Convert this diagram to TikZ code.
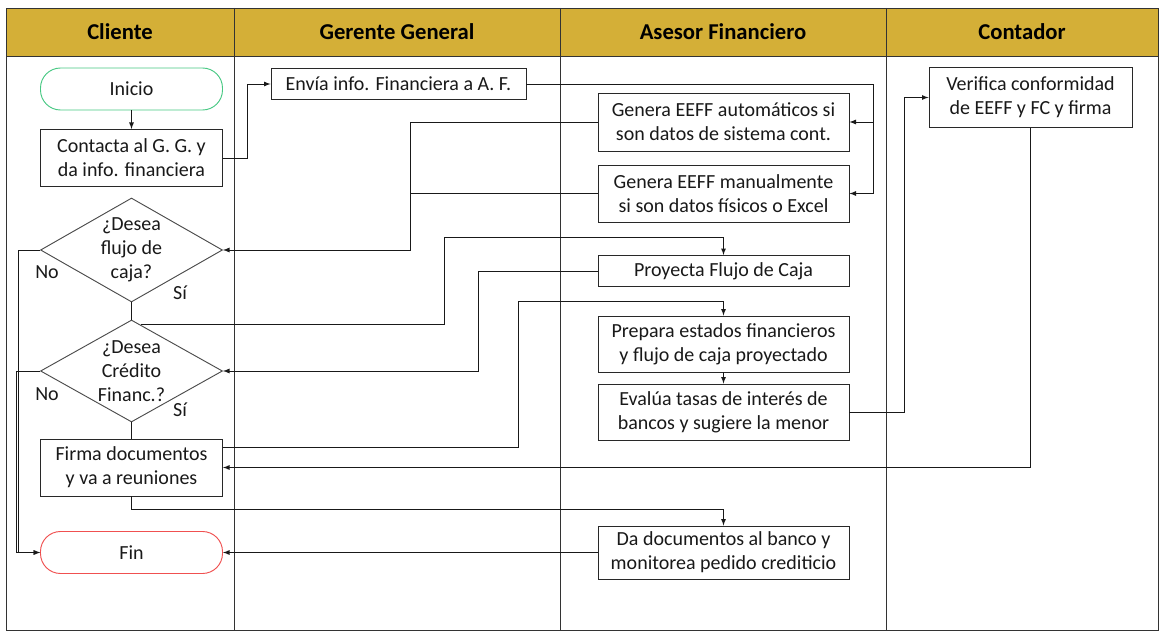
\documentclass[tikz,border=0pt]{standalone}
\usepackage{fontspec}
\setmainfont{Carlito}
\usepackage{tikz}
\usetikzlibrary{shapes}
\usetikzlibrary{calc}
\usetikzlibrary{arrows}
\usetikzlibrary{positioning}

\definecolor{headgold}{RGB}{212,175,55}
\definecolor{startgreen}{RGB}{70,200,130}
\definecolor{endred}{RGB}{240,80,80}
\definecolor{boxgray}{RGB}{40,40,40}

\begin{document}
\begin{tikzpicture}[x = 0.75pt, y = -0.75pt, >=latex,
	every node/.style = {font=\fontsize{15}{18}\selectfont, text=black!90},
	lanehead/.style = {font=\fontsize{17}{18}\selectfont\bfseries, text=black},
	proc/.style = {draw=boxgray, fill=white, rectangle, align=center, inner sep=0pt, line width=0.7pt},
	term/.style = {draw, fill=white, rectangle, rounded corners=15pt, minimum width=136.5pt, minimum height=31.5pt, inner sep=0pt, line width=0.7pt},
	decision/.style = {draw=black!70, fill=white, diamond, minimum width=136.5pt, inner sep=0pt, line width=0.7pt},
	flow/.style = {draw=black!90, line width=0.7pt}]
	\useasboundingbox (0, 0) rectangle (1160, 631);
	
	% Lanes
	\fill[headgold] (6, 8) rectangle (1158, 56);
	\draw[black!80, line width=0.7pt] (6, 8) rectangle (1158, 630);
	\draw[black!80, line width=0.7pt] (6, 56) -- (1158, 56);
	\foreach \x in {234, 560, 886}
		\draw[black!80, line width=0.7pt] (\x, 8) -- (\x, 630);
	\node[lanehead] (hcli) at (120, 32) {Cliente};
	\node[lanehead] (hger) at (397, 32) {Gerente General};
	\node[lanehead] (hase) at (723, 32) {Asesor Financiero};
	\node[lanehead] (hcon) at (1022, 32) {Contador};
	
	% Nodes
	\node[term, draw=startgreen] (ini) at (131.5, 89) {Inicio};
	\node[proc, minimum width=136.5pt, minimum height=42.75pt] (cont) at (131.5, 158) {Contacta al G. G. y\\da info. financiera};
	\node[decision, minimum height=78pt, label={[align=center]center:{¿Desea\\flujo de\\caja?}}] (d1) at (131.5, 250) {};
	\node[decision, minimum height=76.5pt, label={[align=center]center:{¿Desea\\Crédito\\Financ.?}}] (d2) at (131.5, 371) {};
	\node[proc, minimum width=136.5pt, minimum height=42.75pt] (firma) at (131.5, 467.5) {Firma documentos\\y va a reuniones};
	\node[term, draw=endred] (fin) at (131.5, 552.5) {Fin};
	
	\node (no1) at (47, 272) {No};
	\node (si1) at (180, 293) {Sí};
	\node (no2) at (47, 394) {No};
	\node (si2) at (180, 410) {Sí};
	
	\node[proc, minimum width=191.25pt, minimum height=23.25pt] (envia) at (398.5, 84) {Envía info. Financiera a A. F.};
	
	\node[proc, minimum width=188.25pt, minimum height=43.5pt] (auto) at (723.5, 122) {Genera EEFF automáticos si\\son datos de sistema cont.};
	\node[proc, minimum width=188.25pt, minimum height=42.75pt] (man) at (723.5, 193.5) {Genera EEFF manualmente\\si son datos físicos o Excel};
	\node[proc, minimum width=188.25pt, minimum height=23.25pt] (pfc) at (723.5, 271) {Proyecta Flujo de Caja};
	\node[proc, minimum width=188.25pt, minimum height=42pt] (prep) at (723.5, 344) {Prepara estados financieros\\y flujo de caja proyectado};
	\node[proc, minimum width=188.25pt, minimum height=42pt] (eval) at (723.5, 412) {Evalúa tasas de interés de\\bancos y sugiere la menor};
	\node[proc, minimum width=188.25pt, minimum height=39.75pt] (da) at (723.5, 552.5) {Da documentos al banco y\\monitorea pedido crediticio};
	
	\node[proc, minimum width=152.25pt, minimum height=45pt] (ver) at (1030.5, 97.5) {Verifica conformidad\\de EEFF y FC y firma};
	
	% Edges
	\draw[flow, ->] (ini) -- (cont);
	\draw[flow, ->] (cont.east) -- ++(24, 0) |- (envia.west);
	\draw[flow, ->] (envia.east) -| ($(man.east) + (24, 0)$) -- (man.east);
	\draw[flow, ->] ($(auto.east) + (24, 0)$) -- (auto.east);
	\draw[flow, ->] (auto.west) -| (410, 250) -- (d1.east);
	\draw[flow] (man.west) -- (410, 193.5);
	\draw[flow] (d1.south) -- (d2.north);
	\draw[flow, ->] ($(d2.north)!0.1!(d2.east)$) -| (444, 237) -| (pfc.north);
	\draw[flow, ->] (pfc.west) -| (478, 371) -- (d2.east);
	\draw[flow, ->] (d1.west) -- (18, 250) |- (fin.west);
	\draw[flow, ->] (d2.west) -- (16, 371) |- (fin.west);
	\draw[flow] (d2.south) -- (firma.north);
	\draw[flow, ->] ($(firma.north east)!0.15!(firma.south east)$) -| (518, 301) -| (prep.north);
	\draw[flow, ->] (prep) -- (eval);
	\draw[flow, ->] (eval.east) -- ++(55, 0) |- (ver.west);
	\draw[flow, ->] (ver.south) |- (firma.east);
	\draw[flow, ->] (firma.south) -- ++(0, 13) -| (da.north);
	\draw[flow, ->] (da.west) -- (fin.east);
\end{tikzpicture}
\end{document}
